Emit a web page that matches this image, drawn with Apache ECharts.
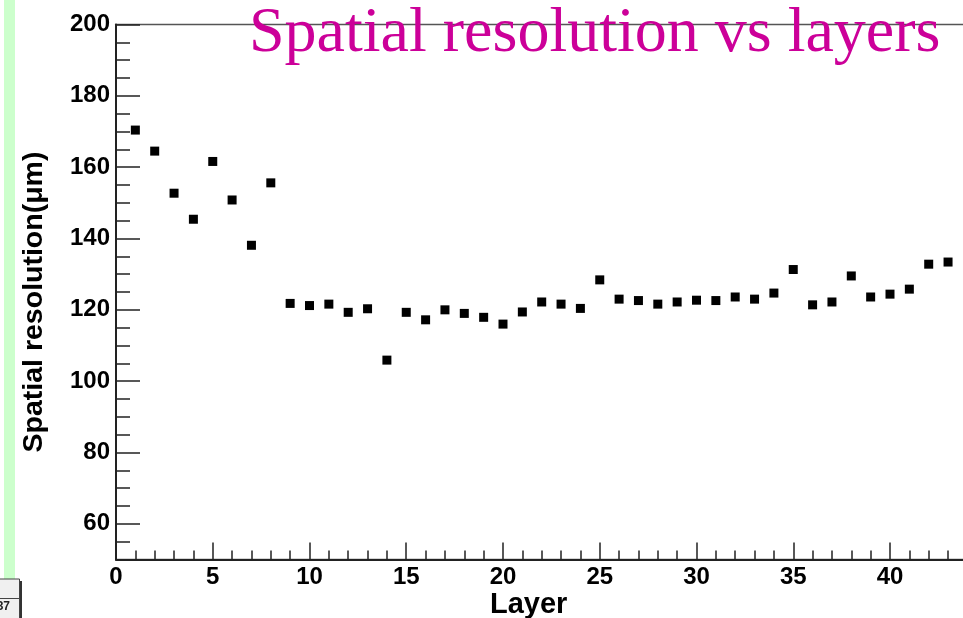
<!DOCTYPE html>
<html>
<head>
<meta charset="utf-8">
<script src="https://cdn.jsdelivr.net/npm/echarts@6/dist/echarts.min.js"></script>
<style>
html,body{margin:0;padding:0;background:#fff;}
#chart{width:963px;height:618px;}
</style>
</head>
<body>
<div id="chart"></div>
<script>
const layers = [1,2,3,4,5,6,7,8,9,10,11,12,13,14,15,16,17,18,19,20,21,22,23,24,25,26,27,28,29,30,31,32,33,34,35,36,37,38,39,40,41,42,43];
const resolution = [170.4,164.5,152.7,145.4,161.6,150.8,138.1,155.6,121.8,121.2,121.6,119.3,120.3,105.9,119.3,117.2,120.0,119.0,117.9,116.0,119.4,122.2,121.6,120.4,128.4,123.0,122.6,121.6,122.2,122.7,122.6,123.6,123.0,124.7,131.3,121.4,122.2,129.5,123.6,124.4,125.8,132.8,133.4];
const titleText = 'Spatial resolution vs layers';
const xName = 'Layer';
const yName = 'Spatial resolution(\u03bcm)';
const cornerText = '37';

const chart = echarts.init(document.getElementById('chart'), null, {renderer: 'canvas'});
const axisCol = '#222';
const labelFont = {fontFamily: 'Liberation Sans, Arial, sans-serif', fontWeight: 'bold', fontSize: 24, color: '#000'};

chart.setOption({
  animation: false,
  backgroundColor: '#fff',
  title: {
    text: titleText,
    left: 249, top: 2, padding: 0,
    textStyle: {fontFamily: 'Liberation Serif, Times New Roman, serif', fontWeight: 'normal', fontSize: 64, color: '#cc0099'}
  },
  grid: {
    left: 116, right: -4.4, top: 24.5, bottom: 58.5,
    show: true, borderColor: '#555', borderWidth: 1.5, backgroundColor: 'transparent',
    outerBoundsMode: 'none', containLabel: false
  },
  xAxis: [
    {
      type: 'value', min: 0, max: 44, interval: 1, position: 'bottom',
      axisLine: {show: true, lineStyle: {color: axisCol, width: 2}},
      axisTick: {show: true, inside: true, length: 9, lineStyle: {color: axisCol, width: 1.5}},
      axisLabel: {show: false},
      splitLine: {show: false},
      name: xName, nameLocation: 'middle', nameGap: 31,
      nameTextStyle: {fontFamily: 'Liberation Sans, Arial, sans-serif', fontWeight: 'bold', fontSize: 29, color: '#000', padding: [0, 26, 0, 0]}
    },
    {
      type: 'value', min: 0, max: 44, interval: 5, position: 'bottom', offset: 0,
      axisLine: {show: false},
      axisTick: {show: true, inside: true, length: 17, lineStyle: {color: axisCol, width: 1.5}},
      axisLabel: Object.assign({margin: 6, showMaxLabel: false}, labelFont),
      splitLine: {show: false}
    }
  ],
  yAxis: [
    {
      type: 'value', min: 50, max: 200, interval: 5, position: 'left',
      axisLine: {show: true, lineStyle: {color: axisCol, width: 2}},
      axisTick: {show: true, inside: true, length: 14, lineStyle: {color: axisCol, width: 1.5}},
      axisLabel: {show: false},
      splitLine: {show: false},
      name: yName, nameLocation: 'middle', nameGap: 67, nameRotate: 90,
      nameTextStyle: {fontFamily: 'Liberation Sans, Arial, sans-serif', fontWeight: 'bold', fontSize: 28.5, color: '#000', padding: [0, 20, 0, 0]}
    },
    {
      type: 'value', min: 50, max: 200, splitNumber: 7, position: 'left', offset: 0,
      axisLine: {show: false},
      axisTick: {show: true, inside: true, length: 24, lineStyle: {color: axisCol, width: 1.5}},
      axisLabel: Object.assign({margin: 6, showMinLabel: false}, labelFont),
      splitLine: {show: false}
    }
  ],
  series: [{
    type: 'scatter',
    xAxisIndex: 0, yAxisIndex: 0,
    symbol: 'rect', symbolSize: 9,
    itemStyle: {color: '#000', opacity: 1},
    data: layers.map((l, i) => [l, resolution[i]])
  }],
  graphic: [
    {type: 'rect', shape: {x: 4, y: 0, width: 11, height: 579}, style: {fill: '#ccffcc'}, z: 100},
    {type: 'rect', shape: {x: 19.5, y: 581, width: 2.5, height: 40}, style: {fill: '#333'}, z: 100},
    {type: 'rect', shape: {x: -2, y: 579, width: 21.5, height: 41}, style: {fill: '#f0f0f0', stroke: '#444', lineWidth: 1}, z: 101},
    {type: 'line', shape: {x1: -2, y1: 598.5, x2: 19.5, y2: 598.5}, style: {stroke: '#444', lineWidth: 1}, z: 102},
    {type: 'text', x: 10, y: 601, style: {text: cornerText, align: 'right', verticalAlign: 'top', font: 'bold 12px Liberation Sans, Arial, sans-serif', fill: '#222'}, z: 103}
  ]
});
</script>
</body>
</html>
